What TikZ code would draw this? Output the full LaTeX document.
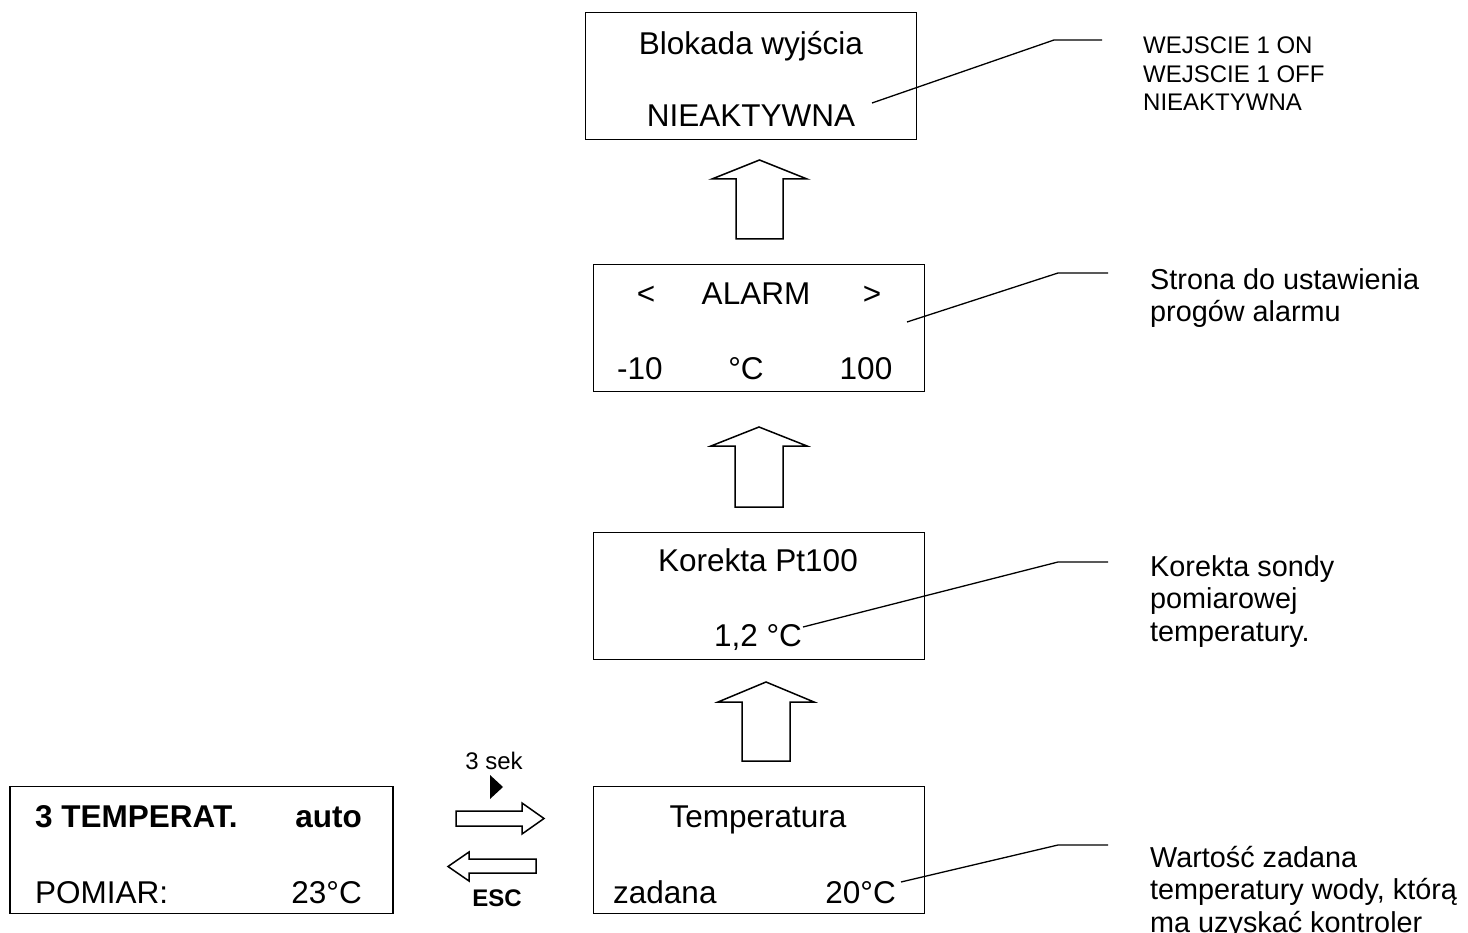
\documentclass[tikz,border=0pt]{standalone}
\usepackage{fontspec}
\setmainfont{Liberation Sans}
\begin{document}
\begin{tikzpicture}[x=1pt,y=-1pt,
  box/.style={draw, line width=1.6pt, minimum width=331pt, minimum height=127pt, inner sep=0pt},
  main/.style={font=\fontsize{31.5}{36}\selectfont, anchor=base, inner sep=0pt},
  side/.style={font=\fontsize{28.8}{32.5}\selectfont, anchor=base west, inner sep=0pt, align=left},
  small/.style={font=\fontsize{24}{28.5}\selectfont, anchor=base west, inner sep=0pt, align=left},
  blk/.style={draw, line width=1.5pt, line join=miter, fill=white},
  lead/.style={draw, line width=1.3pt},
]
\useasboundingbox (0,0) rectangle (1468,933);

% boxes
\node[box] (blok) at (751,76) {};
\node[box] (alarm) at (759,328) {};
\node[box] (kor) at (759,596) {};
\node[box] (temp) at (759,850) {};
\node[box, minimum width=383pt] (menu) at (201.5,850) {};

% box texts
\node[main] (t1a) at (751,55) {Blokada wyjścia};
\node[main] (t1b) at (751,127) {NIEAKTYWNA};
\node[main] (t2a) at (646,305) {<};
\node[main] (t2b) at (756,305) {ALARM};
\node[main] (t2c) at (872,305) {>};
\node[main] (t2d) at (640,380) {-10};
\node[main] (t2e) at (746,380) {°C};
\node[main] (t2f) at (866,380) {100};
\node[main] (t3a) at (758,571) {Korekta Pt100};
\node[main] (t3b) at (758,646) {1,2 °C};
\node[main] (t4a) at (758,827) {Temperatura};
\node[main, anchor=base west] (t4b) at (613,903) {zadana};
\node[main, anchor=base east] (t4c) at (896,903) {20°C};
\node[main, anchor=base west, font=\fontsize{31.5}{36}\selectfont\bfseries] (t5a) at (35,827) {3 TEMPERAT.};
\node[main, anchor=base east, font=\fontsize{31.5}{36}\selectfont\bfseries] (t5b) at (362,827) {auto};
\node[main, anchor=base west] (t5c) at (35,903) {POMIAR:};
\node[main, anchor=base east] (t5d) at (362,903) {23°C};

% side texts (base anchor = baseline of last line)
\node[small] (s1) at (1143,111) {WEJSCIE 1 ON\\WEJSCIE 1 OFF\\NIEAKTYWNA};
\node[side] (s2) at (1150,322) {Strona do ustawienia\\progów alarmu};
\node[side] (s3) at (1150,641) {Korekta sondy\\pomiarowej\\temperatury.};
\node[side] (s4) at (1150,932) {Wartość zadana\\temperatury wody, którą\\ma uzyskać kontroler};

% leader lines
\coordinate (l1a) at (872,103); \coordinate (l1b) at (1054,40); \coordinate (l1c) at (1102,40);
\coordinate (l2a) at (907,322); \coordinate (l2b) at (1058,273); \coordinate (l2c) at (1108,273);
\coordinate (l3a) at (803,627); \coordinate (l3b) at (1058,562); \coordinate (l3c) at (1108,562);
\coordinate (l4a) at (901,882); \coordinate (l4b) at (1058,845); \coordinate (l4c) at (1108,845);
\draw[lead] (l1a) -- (l1b) -- (l1c);
\draw[lead] (l2a) -- (l2b) -- (l2c);
\draw[lead] (l3a) -- (l3b) -- (l3c);
\draw[lead] (l4a) -- (l4b) -- (l4c);

% block arrows up
\draw[blk] (759.5,160) -- (807,179) -- (783,179) -- (783,239) -- (736,239) -- (736,179) -- (712,179) -- cycle;
\draw[blk] (759,427) -- (807,446) -- (783,446) -- (783,507) -- (735,507) -- (735,446) -- (711,446) -- cycle;
\draw[blk] (766,682) -- (814,702) -- (790,702) -- (790,761) -- (742,761) -- (742,702) -- (718,702) -- cycle;

% horizontal arrows
\draw[blk] (456,811) -- (522,811) -- (522,803) -- (544,818.5) -- (522,834) -- (522,826) -- (456,826) -- cycle;
\draw[blk] (536,859) -- (469,859) -- (469,852) -- (448,866.5) -- (469,881) -- (469,873) -- (536,873) -- cycle;
\fill (490,775) -- (503,787) -- (490,799) -- cycle;
\node[small, anchor=base] (sek) at (494,769) {3 sek};
\node[small, anchor=base, font=\fontsize{24}{29}\selectfont\bfseries] (esc) at (497,906) {ESC};
\end{tikzpicture}
\end{document}
